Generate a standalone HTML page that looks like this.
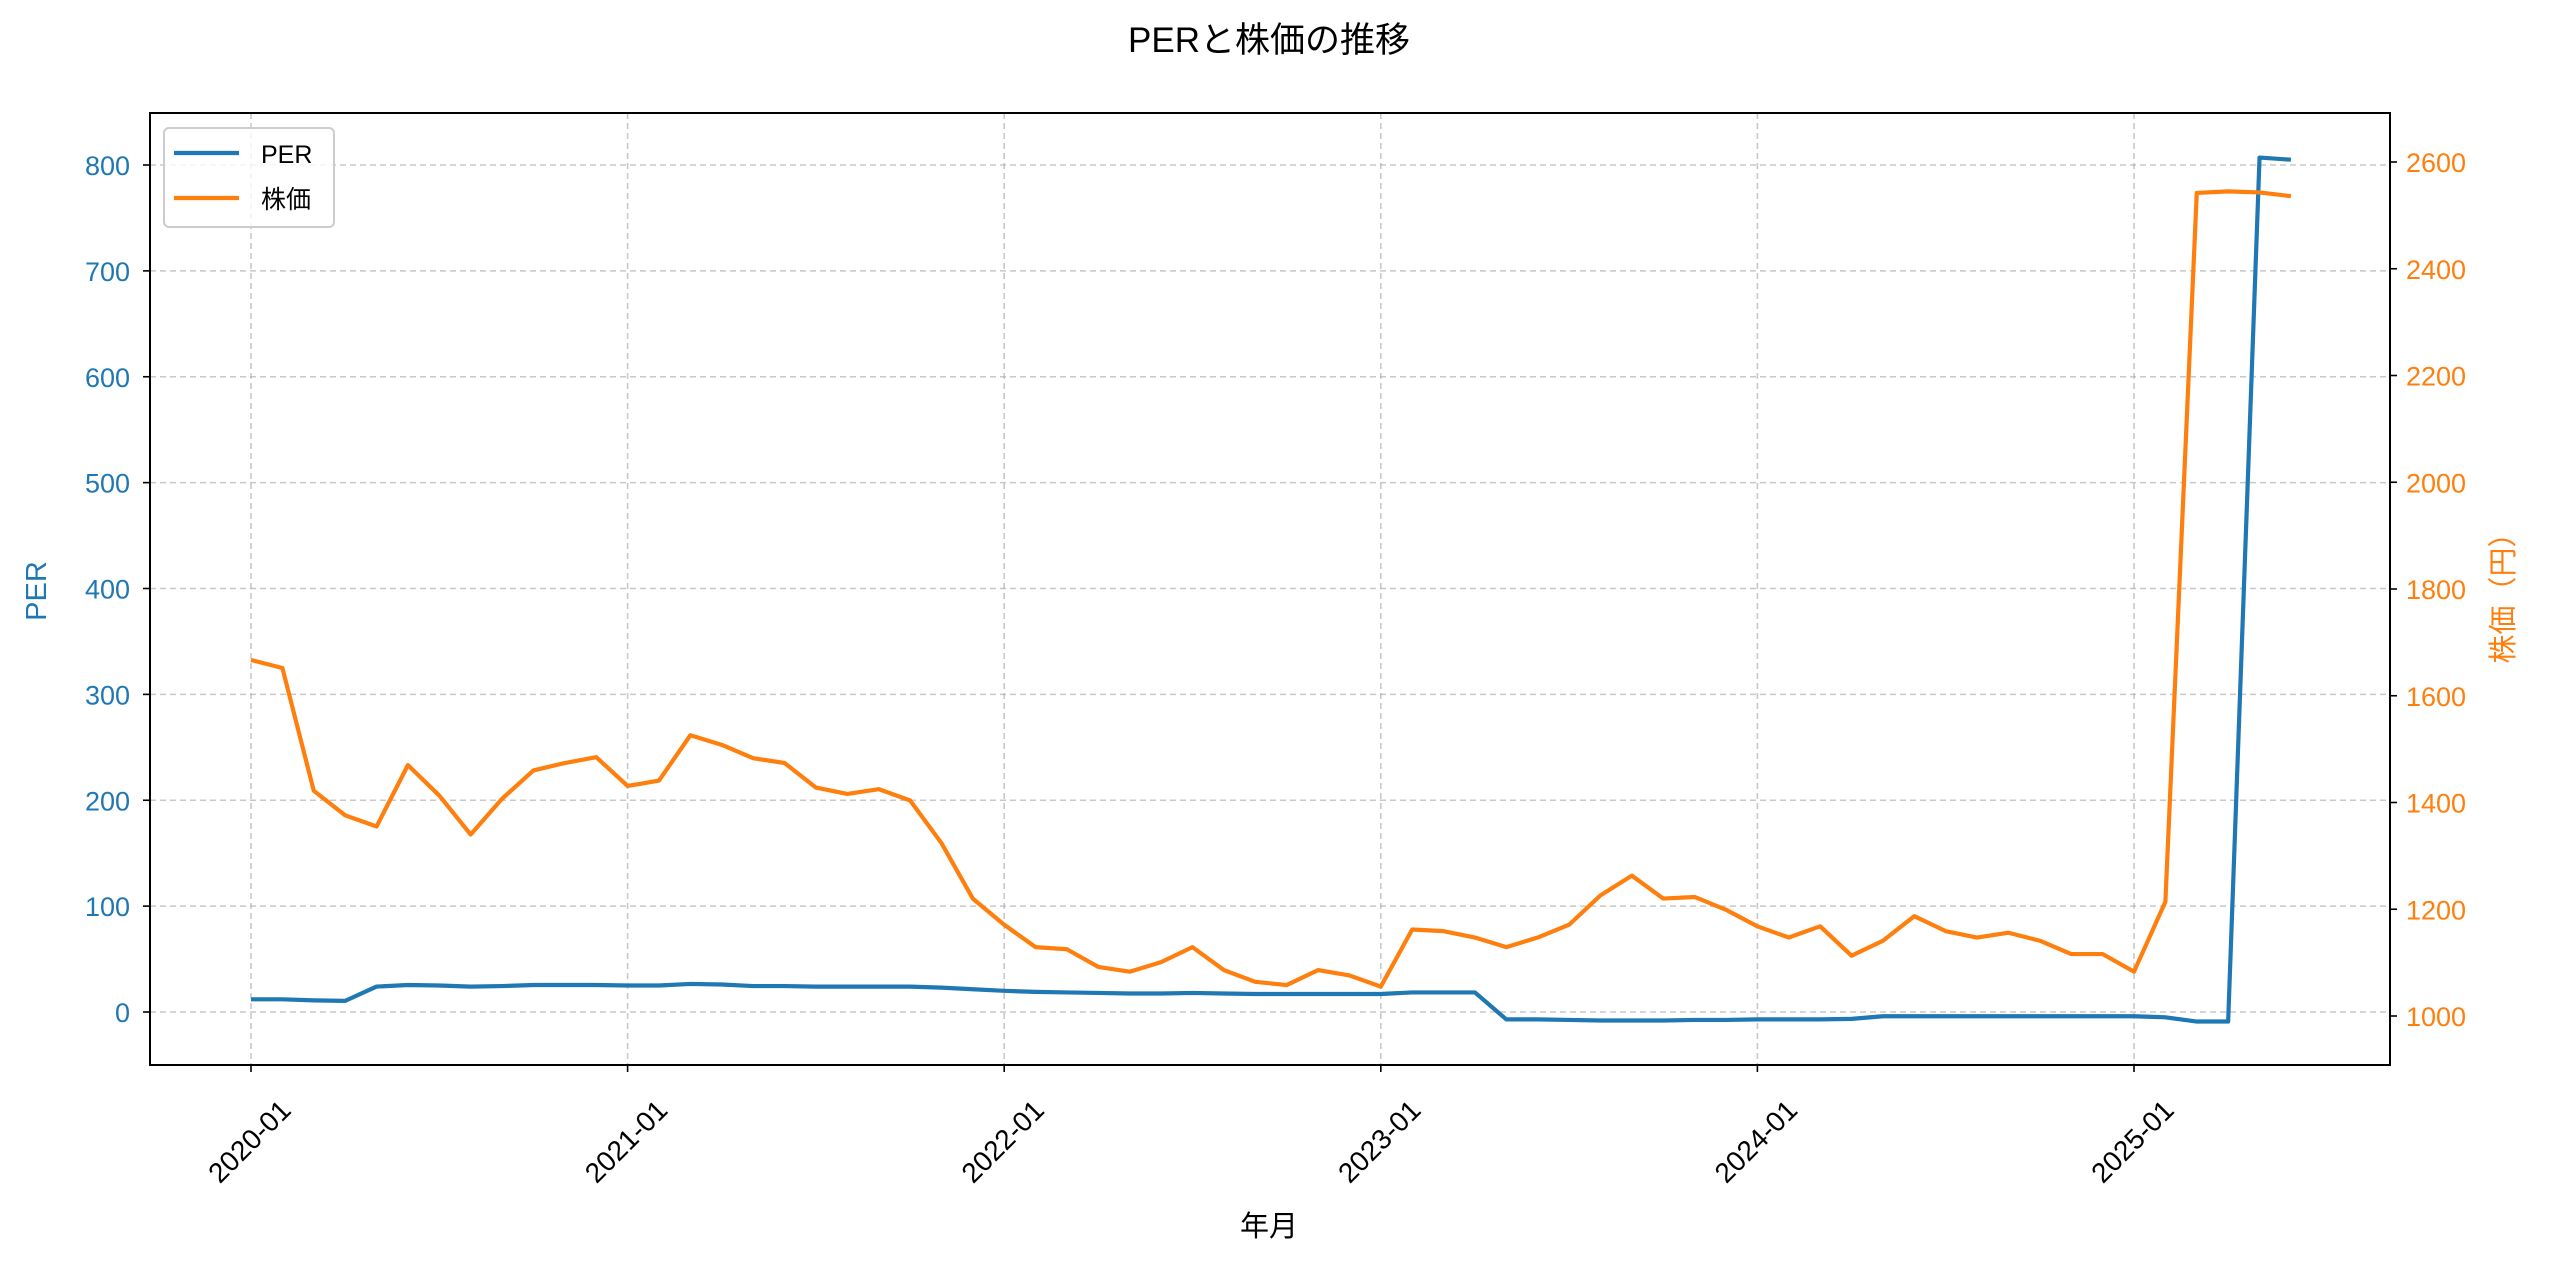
<!DOCTYPE html>
<html><head><meta charset="utf-8"><style>
html,body{margin:0;padding:0;background:#fff;}
svg{display:block;font-family:"Liberation Sans","Noto Sans CJK JP",sans-serif;}
</style></head><body>
<svg id="chart" width="2560" height="1269" viewBox="0 0 2560 1269" xmlns="http://www.w3.org/2000/svg">
<rect width="2560" height="1269" fill="#fff"/>
<text x="1269" y="52" text-anchor="middle" font-size="35">PERと株価の推移</text>
<g id="grid"></g>
<g id="axes"></g>
<g id="series"></g>
<rect x="150" y="113" width="2240" height="952" fill="none" stroke="#000" stroke-width="2"/>
<text x="1269" y="1236" text-anchor="middle" font-size="29">年月</text>
<text transform="translate(46,591) rotate(-90)" text-anchor="middle" font-size="29" fill="#1f77b4">PER</text>
<text transform="translate(2513,591) rotate(-90)" text-anchor="middle" font-size="29" fill="#ff7f0e">株価（円）</text>
<g>
<rect x="164" y="128" width="170" height="99" rx="5" fill="#fff" fill-opacity="0.8" stroke="#ccc" stroke-width="2"/>
<line x1="174" y1="153" x2="239" y2="153" stroke="#1f77b4" stroke-width="4.2"/>
<text x="261" y="163" font-size="25">PER</text>
<line x1="174" y1="198" x2="239" y2="198" stroke="#ff7f0e" stroke-width="4.2"/>
<text x="261" y="208" font-size="25">株価</text>
</g>
</svg>
<script>
const months = Array.from({length:66},(_,i)=>{const y=2020+Math.floor(i/12),m=i%12+1;return y+'-'+String(m).padStart(2,'0');});
const perValues = [12,12,11,10.5,24,25.5,25,24,24.5,25.5,25.5,25.5,25,25,26.5,26,24.5,24.5,24,24,24,24,23,21.5,20,19,18.5,18,17.5,17.5,18,17.5,17,17,17,17,17,18.5,18.5,18.5,-7,-7,-7.5,-8,-8,-8,-7.5,-7.5,-7,-7,-7,-6.5,-4,-4,-4,-4,-4,-4,-4,-4,-4,-5,-9,-9,807,805];
const priceValues = [1667,1652,1422,1376,1355,1470,1413,1340,1407,1460,1474,1485,1431,1441,1526,1508,1483,1474,1428,1416,1425,1404,1324,1220,1171,1129,1125,1092,1083,1101,1129,1086,1064,1058,1086,1076,1055,1162,1159,1147,1129,1147,1171,1226,1263,1220,1223,1199,1168,1147,1168,1113,1141,1187,1159,1147,1156,1141,1116,1116,1083,1214,2542,2545,2543,2536];
const xTickLabels = ['2020-01','2021-01','2022-01','2023-01','2024-01','2025-01'];
const perTicks = [0,100,200,300,400,500,600,700,800];
const priceTicks = [1000,1200,1400,1600,1800,2000,2200,2400,2600];

const NS='http://www.w3.org/2000/svg';
const x = i => 251 + i*(2134-251)/60;
const yL = v => 1012 - v*(1012-165)/800;
const yR = v => 1016 - (v-1000)*(1016-162)/1600;
function mk(parent,tag,attrs){const e=document.createElementNS(NS,tag);for(const k in attrs)e.setAttribute(k,attrs[k]);document.getElementById(parent).appendChild(e);return e;}

xTickLabels.forEach(lab=>{
  const i=months.indexOf(lab), px=x(i);
  const g=mk('grid','line',{x1:px,y1:113,x2:px,y2:1065,stroke:'#b0b0b0','stroke-width':1.6,'stroke-dasharray':'6,4','stroke-opacity':0.7});
  
  
  const t=mk('axes','line',{x1:px,y1:1065,x2:px,y2:1072,stroke:'#000','stroke-width':1.6});
  
  
  const tx=mk('axes','text',{transform:`translate(${px},1143) rotate(-45)`,'text-anchor':'middle','dominant-baseline':'middle','font-size':28});
  
  
  tx.textContent=lab;
});
perTicks.forEach(v=>{
  const py=yL(v);
  const g=mk('grid','line',{x1:150,y1:py,x2:2390,y2:py,stroke:'#b0b0b0','stroke-width':1.6,'stroke-dasharray':'6,4','stroke-opacity':0.7});
  
  
  const t=mk('axes','line',{x1:143,y1:py,x2:150,y2:py,stroke:'#000','stroke-width':1.6});
  
  
  const tx=mk('axes','text',{x:130,y:py+10,'text-anchor':'end','font-size':27,fill:'#1f77b4'});
  
  
  tx.textContent=v;
});
priceTicks.forEach(v=>{
  const py=yR(v);
  const t=mk('axes','line',{x1:2390,y1:py,x2:2397,y2:py,stroke:'#000','stroke-width':1.6});
  
  
  const tx=mk('axes','text',{x:2406,y:py+10,'font-size':27,fill:'#ff7f0e'});
  
  
  tx.textContent=v;
});
const perLine=mk('series','polyline',{points:perValues.map((v,i)=>x(i)+','+yL(v)).join(' '),fill:'none',stroke:'#1f77b4','stroke-width':4.2,'stroke-linejoin':'round'});


const priceLine=mk('series','polyline',{points:priceValues.map((v,i)=>x(i)+','+yR(v)).join(' '),fill:'none',stroke:'#ff7f0e','stroke-width':4.2,'stroke-linejoin':'round'});


</script>
</body></html>
